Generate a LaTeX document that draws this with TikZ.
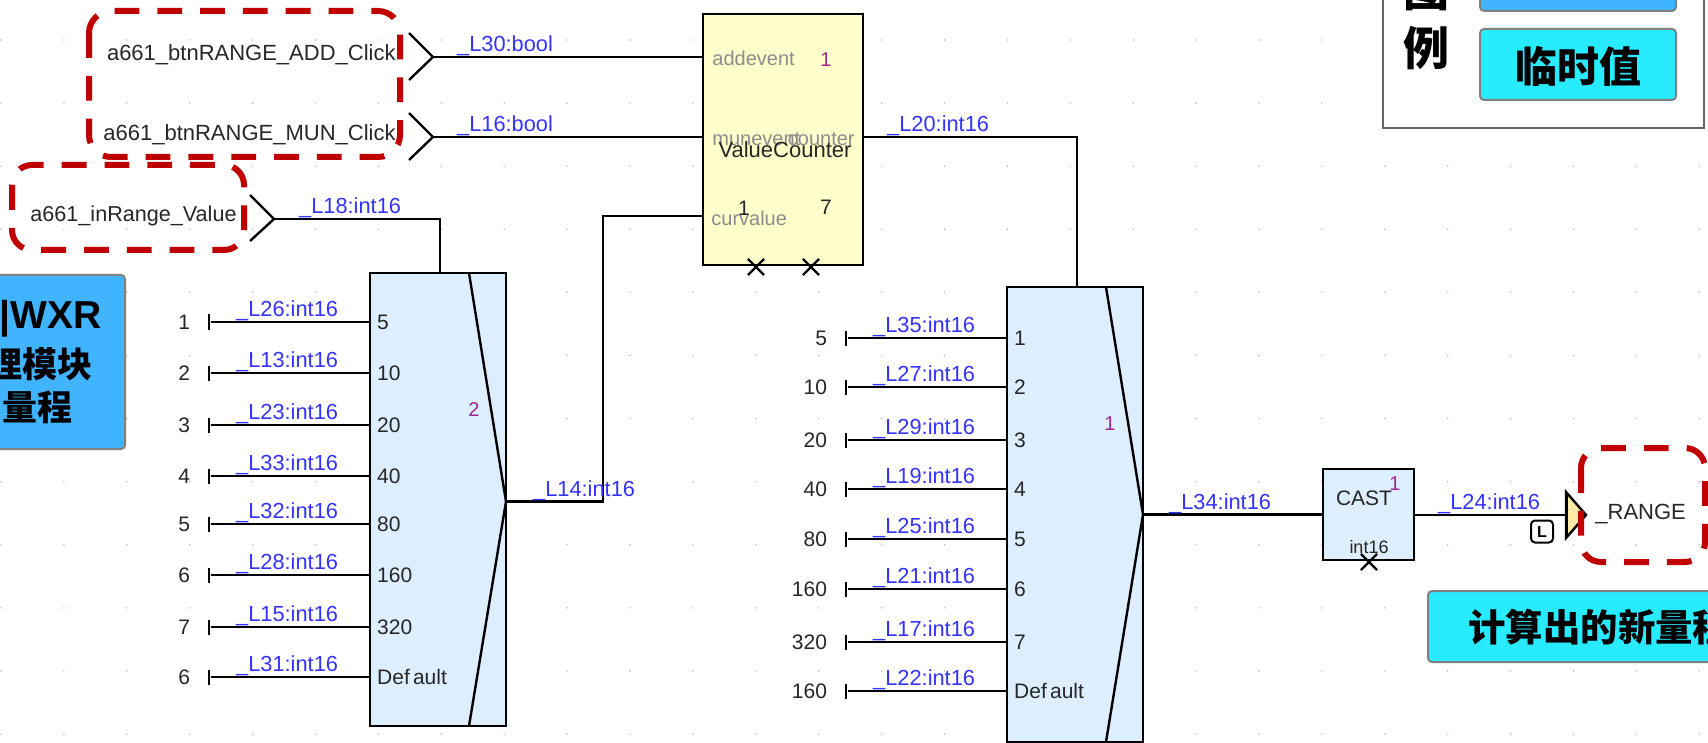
\documentclass[tikz,border=0pt]{standalone}
\usepackage{fontspec}
\usepackage{xcolor}
\setmainfont{Liberation Sans}
\newfontfamily\cjk{Noto Sans CJK SC}
\usetikzlibrary{calc, positioning, shapes.misc}
\definecolor{labelblue}{HTML}{3333FF}
\definecolor{instpurple}{HTML}{A0288C}
\definecolor{markred}{HTML}{C00000}
\definecolor{blockblue}{HTML}{DDEEFF}
\definecolor{blockyellow}{HTML}{FFFFCC}
\definecolor{portyellow}{HTML}{FFE9A6}
\definecolor{noteblue}{HTML}{40B4FF}
\definecolor{notecyan}{HTML}{29EBFF}
\definecolor{pingray}{gray}{0.55}
\tikzset{
  wire/.style={line width=1.2pt, color=black},
  block/.style={
    draw=black, line width=1.25pt, anchor=north west, inner sep=0pt, outer sep=0pt
  },
  wirelabel/.style={
    anchor=base west, inner sep=0pt, xshift=13pt, yshift=2.6pt, text=labelblue,
    font=\fontsize{10.9}{13}\selectfont
  },
  pintext/.style={
    anchor=west, inner sep=0pt, xshift=3pt, text=black!85,
    font=\fontsize{10.5}{12}\selectfont
  },
  graypin/.style={
    inner sep=0pt, text=pingray, font=\fontsize{10}{12}\selectfont
  },
  valtext/.style={
    inner sep=0pt, text=black!85, font=\fontsize{10.5}{12}\selectfont
  },
  tickval/.style={valtext, xshift=-8.5pt},
  tickmark/.style={
    fill=black, inner sep=0pt, minimum width=1.2pt, minimum height=7.5pt
  },
  srctext/.style={
    inner sep=0pt, text=black!85, font=\fontsize{11}{13}\selectfont
  },
  instnum/.style={
    inner sep=0pt, text=instpurple, font=\fontsize{10}{11}\selectfont
  },
  crossmark/.style={
    cross out, draw=black, line width=1.1pt, minimum size=7pt, inner sep=0pt
  },
  notebox/.style={
    draw=gray, line width=1pt, rounded corners=2pt, anchor=north west,
    inner sep=0pt, outer sep=0pt
  },
  notetext/.style={inner sep=0pt, text=black, font=\cjk\bfseries\fontsize{#1}{#1}\selectfont},
  notetext/.default=21,
  redbox/.style={
    draw=markred, line width=3pt, dash pattern=on 12.4pt off 9pt
  }
}
\begin{document}
\begin{tikzpicture}[x=0.5pt, y=-0.5pt]
    \useasboundingbox (0,0) rectangle (1708,743);

    % Sheet dots
    \foreach \i in {0,...,27}
      \foreach \j in {0,...,11}
        \fill[gray!60] (1+62.9*\i, 40+63.1*\j) circle (0.4pt);

    % Legend and notes
    \draw[gray!80!black, line width=0.7pt, fill=white] (1383,-40) rectangle (1704,128);
    \node[notetext=23] (legendA) at (1426,-10) {图};
    \node[notetext=23] (legendB) at (1426,48) {例};
    \node[notebox, fill=noteblue, minimum width=98pt, minimum height=25.5pt] (keyA) at (1480,-40) {};
    \node[notebox, fill=notecyan, minimum width=98pt, minimum height=35.5pt] (keyB) at (1480,29) {};
    \node[notetext, yshift=-1pt] (keyBtext) at (keyB.center) {临时值};
    \node[notebox, fill=noteblue, minimum width=92.5pt, minimum height=87pt] (noteA) at (-60,275) {};
    \node[notetext=19.5, font=\bfseries\fontsize{19.5}{20}\selectfont, anchor=east] (noteAa) at (102,319) {|WXR};
    \node[notetext=17.5, anchor=east] (noteAb) at (93,364) {理模块};
    \node[notetext=17.5, anchor=east] (noteAc) at (73,407) {量程};
    \node[notebox, fill=notecyan, minimum width=170pt, minimum height=35.5pt] (noteB) at (1428,591) {};
    \node[notetext=18.7, anchor=west] (noteBtext) at (1468,627) {计算出的新量程};

    % Blocks
    \node[block, fill=blockyellow, minimum width=80pt, minimum height=125.5pt] (vc) at (703,14) {};
    \node[block, fill=blockblue, minimum width=68pt, minimum height=226.5pt] (muxA) at (370,273) {};
    \node[block, fill=blockblue, minimum width=68pt, minimum height=227.5pt] (muxB) at (1007,287) {};
    \node[block, fill=blockblue, minimum width=45.5pt, minimum height=45.5pt] (cast) at (1323,469) {};
    \coordinate (tipA) at ($(muxA.east)+(0,2)$);
    \draw[wire] (muxA.north east) ++(-37,0) -- (tipA) -- ($(muxA.south east)+(-37,0)$);
    \draw[wire] (muxB.north east) ++(-37,0) -- (muxB.east) -- ($(muxB.south east)+(-37,0)$);

    % ValueCounter texts
    \node[graypin, anchor=west] (vcAdd) at (712,58) {addevent};
    \node[graypin, anchor=west] (vcMun) at (712,139) {munevent};
    \node[graypin, anchor=east] (vcOut) at (855,139) {counter};
    \node[graypin, anchor=west] (vcCur) at (711,218) {curvalue};
    \node[srctext] (vcName) at (785,150) {ValueCounter};
    \node[instnum] (vcInst) at (826,60) {1};
    \node[valtext] (vcLow) at (744,208) {1};
    \node[valtext] (vcHigh) at (826,207) {7};
    \node[crossmark] (vcXa) at (756,267) {};
    \node[crossmark] (vcXb) at (811,267) {};

    % Other block texts
    \node[instnum] (muxAinst) at (474,410) {2};
    \node[instnum] (muxBinst) at (1110,424) {1};
    \node[srctext, font=\fontsize{10.5}{12}\selectfont] (castName) at (1364,498) {CAST};
    \node[instnum] (castInst) at (1395,484) {1};
    \node[srctext, font=\fontsize{9}{11}\selectfont] (castType) at (1369,547) {int16};
    \node[crossmark] (castX) at (1369,562) {};

    % Inputs
    \coordinate (srcA) at (433,57);
    \coordinate (srcB) at (433,137);
    \coordinate (srcC) at (274,219);
    \node[srctext, left=18.5pt of srcA, yshift=1pt] (nameA) {a661\_btnRANGE\_ADD\_Click};
    \node[srctext, left=18.5pt of srcB, yshift=1pt] (nameB) {a661\_btnRANGE\_MUN\_Click};
    \node[srctext, left=18.5pt of srcC, yshift=1.5pt, font=\fontsize{10.8}{13}\selectfont] (nameC) {a661\_inRange\_Value};
    \draw[wire] (srcA) ++(-24,-24) -- (srcA) -- ++(-24,23);
    \draw[wire] (srcB) ++(-24,-24) -- (srcB) -- ++(-24,23);
    \draw[wire] (srcC) ++(-24,-24) -- (srcC) -- ++(-24,22);
    \draw[wire] (srcA) node[wirelabel, xshift=-1.5pt] (lL30) {\_L30:bool} -- (srcA -| vc.west);
    \draw[wire] (srcB) node[wirelabel, xshift=-1.5pt] (lL16) {\_L16:bool} -- (srcB -| vc.west);
    \draw[wire] (srcC) node[wirelabel, xshift=-1pt] (lL18) {\_L18:int16} -| ($(muxA.north west)+(70,0)$);

    % Constants into first selector
    \node[tickmark, label={[tickval, name=va1]left:1}] (a1) at (209,322) {};
    \node[tickmark, label={[tickval, name=va2]left:2}] (a2) at (209,373) {};
    \node[tickmark, label={[tickval, name=va3]left:3}] (a3) at (209,425) {};
    \node[tickmark, label={[tickval, name=va4]left:4}] (a4) at (209,476) {};
    \node[tickmark, label={[tickval, name=va5]left:5}] (a5) at (209,524) {};
    \node[tickmark, label={[tickval, name=va6]left:6}] (a6) at (209,575) {};
    \node[tickmark, label={[tickval, name=va7]left:7}] (a7) at (209,627) {};
    \node[tickmark, label={[tickval, name=va8]left:6}] (a8) at (209,677) {};
    \draw[wire] (a1) node[wirelabel] (la1) {\_L26:int16} -- (a1 -| muxA.west) node[pintext] (pa1) {5};
    \draw[wire] (a2) node[wirelabel] (la2) {\_L13:int16} -- (a2 -| muxA.west) node[pintext] (pa2) {10};
    \draw[wire] (a3) node[wirelabel] (la3) {\_L23:int16} -- (a3 -| muxA.west) node[pintext] (pa3) {20};
    \draw[wire] (a4) node[wirelabel] (la4) {\_L33:int16} -- (a4 -| muxA.west) node[pintext] (pa4) {40};
    \draw[wire] (a5) node[wirelabel] (la5) {\_L32:int16} -- (a5 -| muxA.west) node[pintext] (pa5) {80};
    \draw[wire] (a6) node[wirelabel] (la6) {\_L28:int16} -- (a6 -| muxA.west) node[pintext] (pa6) {160};
    \draw[wire] (a7) node[wirelabel] (la7) {\_L15:int16} -- (a7 -| muxA.west) node[pintext] (pa7) {320};
    \draw[wire] (a8) node[wirelabel] (la8) {\_L31:int16} -- (a8 -| muxA.west) node[pintext] (pa8) {Def\kern1.6pt ault};

    % Constants into second selector
    \node[tickmark, label={[tickval, name=vb1]left:5}] (b1) at (846,338) {};
    \node[tickmark, label={[tickval, name=vb2]left:10}] (b2) at (846,387) {};
    \node[tickmark, label={[tickval, name=vb3]left:20}] (b3) at (846,440) {};
    \node[tickmark, label={[tickval, name=vb4]left:40}] (b4) at (846,489) {};
    \node[tickmark, label={[tickval, name=vb5]left:80}] (b5) at (846,539) {};
    \node[tickmark, label={[tickval, name=vb6]left:160}] (b6) at (846,589) {};
    \node[tickmark, label={[tickval, name=vb7]left:320}] (b7) at (846,642) {};
    \node[tickmark, label={[tickval, name=vb8]left:160}] (b8) at (846,691) {};
    \draw[wire] (b1) node[wirelabel] (lb1) {\_L35:int16} -- (b1 -| muxB.west) node[pintext] (pb1) {1};
    \draw[wire] (b2) node[wirelabel] (lb2) {\_L27:int16} -- (b2 -| muxB.west) node[pintext] (pb2) {2};
    \draw[wire] (b3) node[wirelabel] (lb3) {\_L29:int16} -- (b3 -| muxB.west) node[pintext] (pb3) {3};
    \draw[wire] (b4) node[wirelabel] (lb4) {\_L19:int16} -- (b4 -| muxB.west) node[pintext] (pb4) {4};
    \draw[wire] (b5) node[wirelabel] (lb5) {\_L25:int16} -- (b5 -| muxB.west) node[pintext] (pb5) {5};
    \draw[wire] (b6) node[wirelabel] (lb6) {\_L21:int16} -- (b6 -| muxB.west) node[pintext] (pb6) {6};
    \draw[wire] (b7) node[wirelabel] (lb7) {\_L17:int16} -- (b7 -| muxB.west) node[pintext] (pb7) {7};
    \draw[wire] (b8) node[wirelabel] (lb8) {\_L22:int16} -- (b8 -| muxB.west) node[pintext] (pb8) {Def\kern1.6pt ault};

    % Block to block wires
    \coordinate (jogA) at (603,216);
    \coordinate (outPort) at (1566,515);
    \draw[wire] (tipA) node[wirelabel] (lL14) {\_L14:int16} -| (jogA) -- (jogA -| vc.west);
    \draw[wire] (vc.east |- srcB) node[wirelabel, xshift=-1.5pt] (lL20) {\_L20:int16} -| ($(muxB.north west)+(70,0)$);
    \draw[wire] (muxB.east) node[wirelabel, xshift=-0.5pt] (lL34) {\_L34:int16} -- (muxB.east -| cast.west);
    \draw[wire] (cast.east |- outPort) node[wirelabel, xshift=-1.5pt] (lL24) {\_L24:int16} -- (outPort);

    % Output
    \draw[wire, fill=portyellow] (outPort) ++(0,-23) -- ++(20,23) -- ++(-20,23) -- cycle;
    \draw[wire, line width=1.5pt] (outPort) ++(0,-23) -- ++(0,46);
    \node[draw=black, line width=1pt, rounded corners=2pt, minimum size=11pt, inner sep=0pt,
      font=\bfseries\fontsize{8}{8}\selectfont] (latch) at (1542,531.5) {L};
    \node[srctext, anchor=west] (nameOut) at (1595,514) {\_RANGE};

    % Marked areas
    \draw[redbox, rounded corners=11pt] (89,11) rectangle (400,157);
    \draw[redbox, rounded corners=10pt] (12,165) rectangle (244,250);
    \draw[redbox, rounded corners=10pt] (1581,448) rectangle (1705,562);
  \end{tikzpicture}
\end{document}
